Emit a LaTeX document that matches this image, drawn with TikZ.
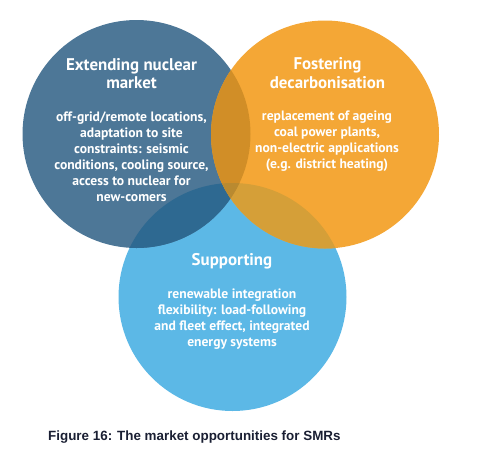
\documentclass[tikz,border=0pt]{standalone}
\usepackage{fontspec}
\setmainfont{PT Sans}
\newfontfamily\capfont{Liberation Sans}
\definecolor{cdark}{HTML}{4D7797}
\definecolor{corange}{HTML}{F4A736}
\definecolor{clight}{HTML}{5CB8E6}
\definecolor{cdl}{HTML}{2E6991}
\definecolor{cdo}{HTML}{D18E27}
\definecolor{col}{HTML}{D59F38}
\definecolor{cdol}{HTML}{B98A30}
\definecolor{ccap}{HTML}{1A1F33}
\begin{document}
\begin{tikzpicture}[x=1pt,y=-1pt,
  ttl/.style={text=white,font=\bfseries\fontsize{16.9}{18.6}\selectfont,align=center,inner sep=0pt},
  bdy/.style={text=white,font=\bfseries\fontsize{13.6}{16}\selectfont,align=center,inner sep=0pt},
  captext/.style={text=ccap,font=\capfont\bfseries\fontsize{13.4}{15}\selectfont,inner sep=0pt,anchor=west}]
\useasboundingbox (0,0) rectangle (479,472);
\def\Dark{(136.5,134) circle (114)}
\def\Orng{(325,134.5) circle (114)}
\def\Lght{(232.5,297) circle (114)}
\fill[clight] \Lght;
\fill[cdark] \Dark;
\fill[corange] \Orng;
\begin{scope}\clip \Dark; \fill[cdl] \Lght; \end{scope}
\begin{scope}\clip \Orng; \fill[col] \Lght; \end{scope}
\begin{scope}\clip \Dark; \fill[cdo] \Orng; \end{scope}
\begin{scope}\clip \Dark; \clip \Orng; \fill[cdol] \Lght; \end{scope}
\node[ttl] (t1) at (131.5,73.5) {Extending nuclear\\market};
\node[bdy] (b1) at (131.5,157) {off-grid/remote locations,\\adaptation to site\\constraints: seismic\\conditions, cooling source,\\access to nuclear for\\new-comers};
\node[ttl] (t2) at (327.5,73) {Fostering\\decarbonisation};
\node[bdy] (b2) at (327,141) {replacement of ageing\\coal power plants,\\non-electric applications\\(e.g. district heating)};
\node[ttl] (t3) at (232,261) {Supporting};
\node[bdy] (b3) at (232,319) {renewable integration\\flexibility: load-following\\and fleet effect, integrated\\energy systems};
\node[captext] (c) at (48,437) {Figure 16: The market opportunities for SMRs};
\end{tikzpicture}
\end{document}
